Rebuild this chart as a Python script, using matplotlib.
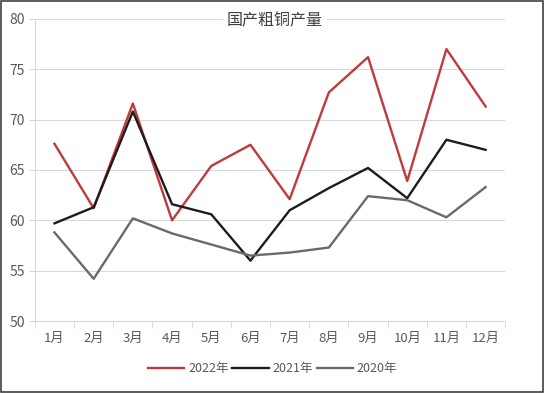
import matplotlib
matplotlib.use("Agg")
import matplotlib.pyplot as plt
from matplotlib.patches import Rectangle

plt.rcParams["font.family"] = ["Noto Sans CJK SC", "DejaVu Sans"]

months = ["1月", "2月", "3月", "4月", "5月", "6月", "7月", "8月", "9月", "10月", "11月", "12月"]
y2022 = [67.6, 61.2, 71.6, 60.0, 65.4, 67.5, 62.1, 72.7, 76.2, 63.9, 77.0, 71.3]
y2021 = [59.7, 61.3, 70.8, 61.6, 60.6, 56.0, 61.0, 63.2, 65.2, 62.2, 68.0, 67.0]
y2020 = [58.8, 54.2, 60.2, 58.7, 57.6, 56.5, 56.8, 57.3, 62.4, 62.0, 60.3, 63.3]
series_names = ["2022年", "2021年", "2020年"]
series_colors = ["#be3a3c", "#1c1c1c", "#6a6a6a"]

fig = plt.figure(figsize=(5.45, 3.93), dpi=100)
ax = fig.add_axes([0.064, 0.183, 0.863, 0.769])

x = list(range(len(months)))
for vals, name, color in zip([y2022, y2021, y2020], series_names, series_colors):
    ax.plot(x, vals, color=color, linewidth=1.7, label=name, zorder=3)

ax.set_xlim(-0.5, len(months) - 0.5)
ax.set_ylim(50, 80)
ax.set_yticks([50, 55, 60, 65, 70, 75, 80])
ax.set_xticks(x)
ax.set_xticklabels(months)
ax.set_xticks([i - 0.5 for i in range(len(months) + 1)], minor=True)
ax.tick_params(axis="x", which="major", length=0, pad=8, labelsize=9.5, colors="#595959")
ax.tick_params(axis="x", which="minor", length=5, color="#d9d9d9")
ax.tick_params(axis="y", length=4, color="#d9d9d9", labelsize=10, colors="#595959", pad=3)
ax.grid(axis="y", color="#d9d9d9", linewidth=0.8, zorder=0)
for side in ["top", "right"]:
    ax.spines[side].set_visible(False)
for side in ["left", "bottom"]:
    ax.spines[side].set_color("#d9d9d9")
    ax.spines[side].set_linewidth(0.8)

ax.text(0.51, 0.995, "国产粗铜产量", transform=ax.transAxes, ha="center", va="center",
        fontsize=11.5, color="#404040", zorder=4,
        bbox=dict(facecolor="white", edgecolor="none", pad=3))

fig.legend(loc="center", bbox_to_anchor=(0.5, 0.062), ncol=3, frameon=False,
           fontsize=9, handlelength=2.9, handletextpad=0.3, columnspacing=0.3,
           labelcolor="#595959")

fig.patches.append(Rectangle((0.002, 0.003), 0.995, 0.994, transform=fig.transFigure,
                             fill=False, edgecolor="#404040", linewidth=1.2))

fig.savefig("out.png", dpi=100)
